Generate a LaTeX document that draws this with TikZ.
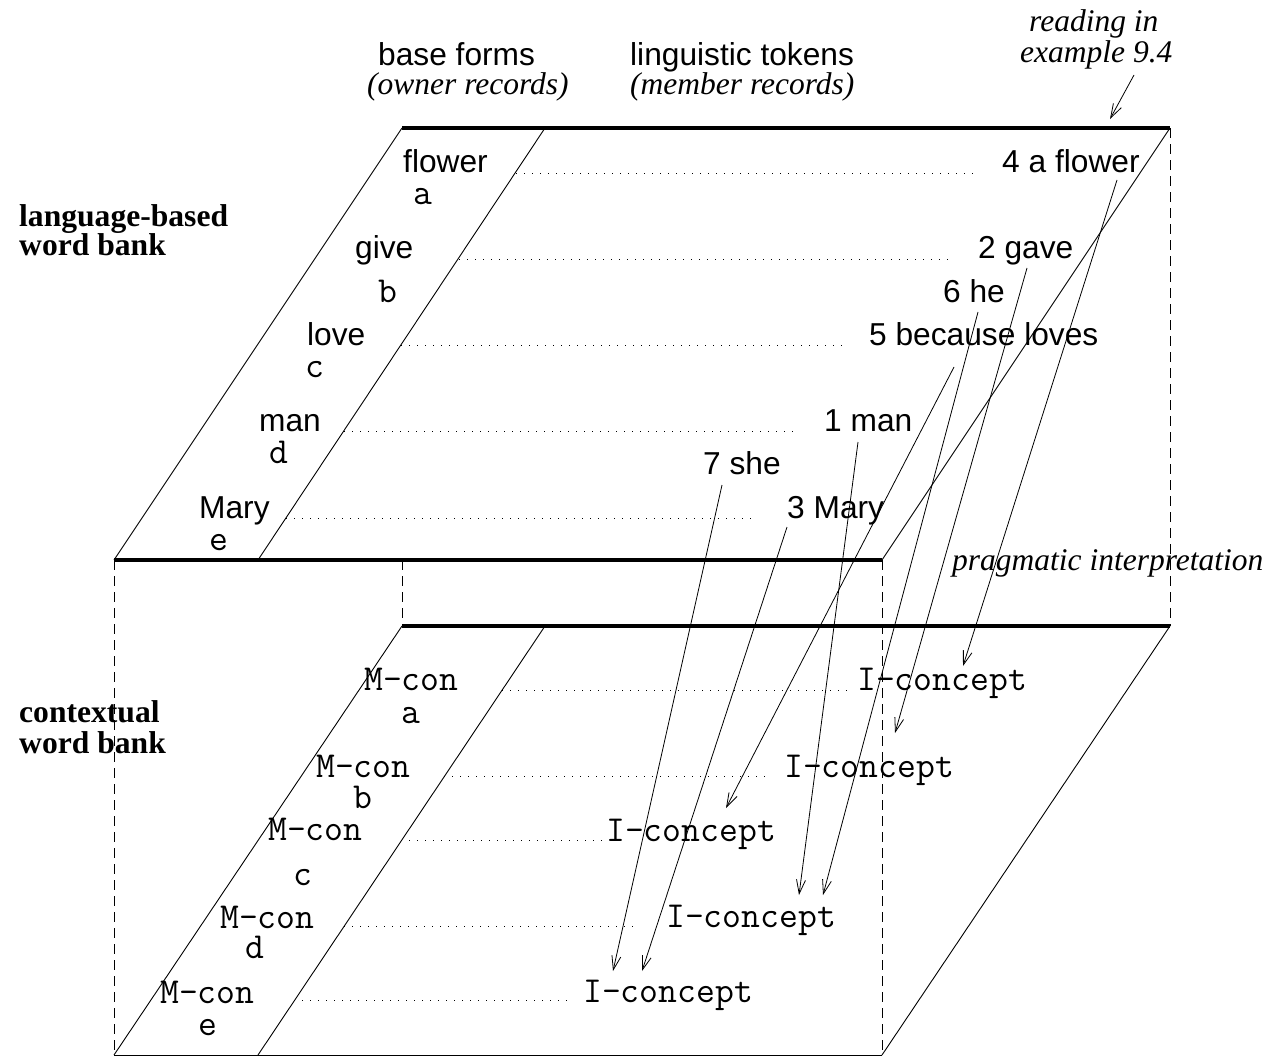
\documentclass[tikz,border=0pt]{standalone}
\usepackage{fontspec}
\setmainfont{Liberation Serif}
\newfontfamily\lblfont{Liberation Sans}
\usetikzlibrary{arrows.meta}
\begin{document}
\begin{tikzpicture}[x=1pt,y=-1pt,
  edge/.style={line width=0.9pt},
  rim/.style={line width=3.5pt},
  hidden/.style={line width=0.8pt, dash pattern=on 10pt off 6pt},
  link/.style={line width=0.9pt, dash pattern=on 1pt off 7pt},
  ref/.style={line width=0.8pt, -{Straight Barb[length=14pt,width=9pt,line width=0.8pt]}},
  word/.style={anchor=base west, inner sep=0pt, font=\lblfont\fontsize{31.7}{35}\selectfont},
  code/.style={anchor=base west, inner sep=0pt, font=\ttfamily\fontsize{36.6}{40}\selectfont},
  key/.style={anchor=base, inner sep=0pt, font=\ttfamily\fontsize{36.6}{40}\selectfont},
  title/.style={anchor=base west, inner sep=0pt, font=\bfseries\fontsize{31.6}{35}\selectfont},
  note/.style={anchor=base west, inner sep=0pt, font=\itshape\fontsize{31.5}{35}\selectfont},
]
\useasboundingbox (0,0) rectangle (1273,1057);

% ---------- box outline ----------
% upper plane (language-based word bank)
\draw[rim] (402,128) -- (1170,128);
\draw[rim] (114,560) -- (882,560);
\draw[edge] (402,128) -- (114,560);
\draw[edge] (545,128) -- (258,560);
\draw[edge] (1170,128) -- (882,560);
% lower plane (contextual word bank)
\draw[rim] (402,626) -- (1170,626);
\draw[edge] (114,1055) -- (882,1055);
\draw[edge] (402,626) -- (114,1055);
\draw[edge] (545,626) -- (258,1055);
\draw[edge] (1170,626) -- (882,1055);
% vertical edges
\draw[hidden] (114,560) -- (114,1055);
\draw[hidden] (882,560) -- (882,1055);
\draw[hidden] (402,560) -- (402,626);
\draw[hidden] (1170,128) -- (1170,626);

% ---------- headings ----------
\node[word] (hbase) at (378,65) {base forms};
\node[note] (howner) at (367,94) {(owner records)};
\node[word] (htok) at (630,65) {linguistic tokens};
\node[note] (hmember) at (630,94) {(member records)};
\node[note] (hread1) at (1029,32) {reading in};
\node[note] (hread2) at (1020,63) {example 9.4};
\node[title] (lang1) at (19,226) {language-based};
\node[title] (lang2) at (19,255) {word bank};
\node[title] (ctx1) at (19,722) {contextual};
\node[title] (ctx2) at (19,753) {word bank};
\node[note] (prag) at (952,570) {pragmatic interpretation};

% ---------- upper plane: owner records ----------
\node[word] (bflower) at (403,172) {flower};
\node[key] (ka) at (423,204) {a};
\node[word] (bgive) at (355,258) {give};
\node[key] (kb) at (388,302) {b};
\node[word] (blove) at (307,345) {love};
\node[key] (kc) at (315,377) {c};
\node[word] (bman) at (259,431) {man};
\node[key] (kd) at (279,463) {d};
\node[word] (bmary) at (199,518) {Mary};
\node[key] (ke) at (219,550) {e};

% ---------- upper plane: member records ----------
\node[word] (t4) at (1002,172) {4 a flower};
\node[word] (t2) at (978,258) {2 gave};
\node[word] (t6) at (943,302) {6 he};
\node[word] (t5) at (869,345) {5 because loves};
\node[word] (t1) at (824,431) {1 man};
\node[word] (t7) at (703,474) {7 she};
\node[word] (t3) at (787,518) {3 Mary};

\draw[link] (516,173) -- (973,173);
\draw[link] (459,259) -- (952,259);
\draw[link] (401,345) -- (842,345);
\draw[link] (344,431) -- (797,431);
\draw[link] (286,518) -- (758,518);

% ---------- lower plane: owner records ----------
\node[code] (ma) at (364,690) {M-con};
\node[key] (la) at (411,723) {a};
\node[code] (mb) at (316,777) {M-con};
\node[key] (lb) at (363,808) {b};
\node[code] (mc) at (268,840) {M-con};
\node[key] (lc) at (303,885) {c};
\node[code] (md) at (220,928) {M-con};
\node[key] (ld) at (255,958) {d};
\node[code] (me) at (160,1003) {M-con};
\node[key] (le) at (208,1035) {e};

% ---------- lower plane: member records ----------
\node[code] (ia) at (857,690) {I-concept};
\node[code] (ib) at (784,777) {I-concept};
\node[code] (ic) at (606,841) {I-concept};
\node[code] (id) at (666,927) {I-concept};
\node[code] (ie) at (583,1002) {I-concept};

\draw[link] (502,690) -- (848,690);
\draw[link] (444,776) -- (770,776);
\draw[link] (401,840) -- (603,840);
\draw[link] (344,926) -- (638,926);
\draw[link] (294,1000) -- (570,1000);

% ---------- reading order arrows ----------
\coordinate (r0) at (1134,75);
\coordinate (r1) at (1110,119);
\draw[ref] (r0) -- (r1);

\coordinate (s4) at (1117,180);
\coordinate (s2) at (1027,268);
\coordinate (s6) at (978,312);
\coordinate (s5) at (954,367);
\coordinate (s1) at (858,442);
\coordinate (s7) at (722,485);
\coordinate (s3) at (787,527);

\coordinate (e4) at (963,666);
\coordinate (e2) at (895,733);
\coordinate (e6) at (823,895);
\coordinate (e5) at (726,808);
\coordinate (e1) at (799,895);
\coordinate (e7) at (613,971);
\coordinate (e3) at (642,971);

\foreach \k in {4,2,6,5,1,7,3} \draw[ref] (s\k) -- (e\k);

\end{tikzpicture}
\end{document}
